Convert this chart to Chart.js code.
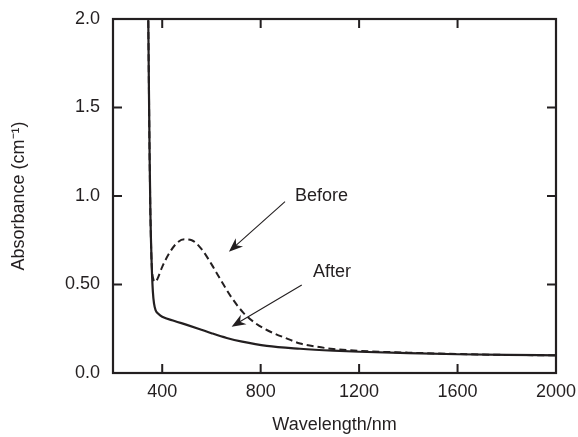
<!DOCTYPE html>
<html>
<head>
<meta charset="utf-8">
<script src="https://cdn.jsdelivr.net/npm/chart.js@4.4.1/dist/chart.umd.min.js"></script>
<style>
html,body{margin:0;padding:0;background:#fff;}
canvas{display:block;}
</style>
</head>
<body>
<canvas id="c" width="578" height="437"></canvas>
<script>
// ---- data ----
const xTicks = [400, 800, 1200, 1600, 2000];
const xTickLabels = ['400', '800', '1200', '1600', '2000'];
const yTicks = [0, 0.5, 1.0, 1.5, 2.0];
const yTickLabels = ['0.0', '0.50', '1.0', '1.5', '2.0'];

const afterWavelength = [343, 346, 349, 352, 357, 362, 367, 373, 384, 400, 450, 500, 550, 600, 662, 725, 825, 960, 1095, 1200, 1400, 1600, 1800, 2000];
const afterAbs =        [2.05, 1.6, 1.2, 0.9, 0.62, 0.46, 0.39, 0.355, 0.335, 0.318, 0.294, 0.272, 0.249, 0.225, 0.198, 0.177, 0.153, 0.137, 0.126, 0.12, 0.112, 0.106, 0.102, 0.1];

const beforeWavelength = [343, 346, 349, 352, 357, 364, 372, 380, 400, 430, 460, 490, 520, 560, 600, 640, 680, 730, 780, 825, 900, 960, 1030, 1095, 1200, 1400, 1600, 1800, 2000];
const beforeAbs =        [2.05, 1.6, 1.2, 0.9, 0.62, 0.53, 0.515, 0.53, 0.6, 0.68, 0.735, 0.755, 0.75, 0.70, 0.615, 0.52, 0.43, 0.34, 0.28, 0.243, 0.198, 0.167, 0.148, 0.136, 0.125, 0.115, 0.107, 0.102, 0.1];

// annotations
const noteLabels = ['Before', 'After'];
const noteLabelX = [1047, 1090];
const noteLabelY = [0.997, 0.573];
const arrowFromX = [899, 967];
const arrowFromY = [0.968, 0.497];
const arrowToX = [671, 682];
const arrowToY = [0.685, 0.262];

const ink = '#231f20';
const FONT = '"Liberation Sans", Arial, Helvetica, sans-serif';

const toPts = (xs, ys) => xs.map((v, i) => ({x: v, y: ys[i]}));

const framePlugin = {
  id: 'frame',
  afterDatasetsDraw(chart) {
    const {ctx, chartArea: a, scales: {x, y}} = chart;
    ctx.save();
    ctx.strokeStyle = ink;
    ctx.lineWidth = 2.2;
    ctx.strokeRect(a.left, a.top, a.right - a.left, a.bottom - a.top);
    ctx.lineWidth = 2;
    const tl = 9;
    xTicks.forEach(v => {
      if (v >= x.max) return;
      const px = x.getPixelForValue(v);
      ctx.beginPath();
      ctx.moveTo(px, a.bottom); ctx.lineTo(px, a.bottom - tl);
      ctx.moveTo(px, a.top); ctx.lineTo(px, a.top + tl);
      ctx.stroke();
    });
    yTicks.forEach(v => {
      if (v <= y.min || v >= y.max) return;
      const py = y.getPixelForValue(v);
      ctx.beginPath();
      ctx.moveTo(a.left, py); ctx.lineTo(a.left + tl, py);
      ctx.moveTo(a.right, py); ctx.lineTo(a.right - tl, py);
      ctx.stroke();
    });
    // arrows
    ctx.fillStyle = ink;
    ctx.lineWidth = 1.1;
    for (let i = 0; i < noteLabels.length; i++) {
      const x0 = x.getPixelForValue(arrowFromX[i]), y0 = y.getPixelForValue(arrowFromY[i]);
      const x1 = x.getPixelForValue(arrowToX[i]), y1 = y.getPixelForValue(arrowToY[i]);
      const ang = Math.atan2(y1 - y0, x1 - x0);
      const hl = 14, hw = 5.5;
      ctx.beginPath();
      ctx.moveTo(x0, y0);
      ctx.lineTo(x1 - Math.cos(ang) * 8, y1 - Math.sin(ang) * 8);
      ctx.stroke();
      const bx = x1 - Math.cos(ang) * hl, by = y1 - Math.sin(ang) * hl;
      const nx = -Math.sin(ang), ny = Math.cos(ang);
      const mx = x1 - Math.cos(ang) * hl * 0.7, my = y1 - Math.sin(ang) * hl * 0.7;
      ctx.beginPath();
      ctx.moveTo(x1, y1);
      ctx.lineTo(bx + nx * hw, by + ny * hw);
      ctx.lineTo(mx, my);
      ctx.lineTo(bx - nx * hw, by - ny * hw);
      ctx.closePath();
      ctx.fill();
      ctx.font = '18px ' + FONT;
      ctx.textAlign = 'center';
      ctx.textBaseline = 'middle';
      ctx.fillText(noteLabels[i], x.getPixelForValue(noteLabelX[i]), y.getPixelForValue(noteLabelY[i]));
    }
    ctx.restore();
  }
};

new Chart(document.getElementById('c'), {
  type: 'scatter',
  data: {
    datasets: [
      {
        label: 'Before',
        data: toPts(beforeWavelength, beforeAbs),
        showLine: true,
        borderColor: ink,
        borderWidth: 2,
        borderDash: [7, 4],
        pointRadius: 0,
        cubicInterpolationMode: 'monotone',
        fill: false
      },
      {
        label: 'After',
        data: toPts(afterWavelength, afterAbs),
        showLine: true,
        borderColor: ink,
        borderWidth: 2.2,
        pointRadius: 0,
        cubicInterpolationMode: 'monotone',
        fill: false
      }
    ]
  },
  options: {
    responsive: false,
    animation: false,
    devicePixelRatio: 1,
    layout: {padding: {left: 0, right: 22, top: 19, bottom: 0}},
    plugins: {legend: {display: false}, tooltip: {enabled: false}},
    scales: {
      x: {
        type: 'linear',
        min: 200, max: 2000,
        afterBuildTicks: s => { s.ticks = xTicks.map(v => ({value: v})); },
        afterFit: s => { s.height = 64; s.paddingLeft = 0; s.paddingRight = 0; },
        grid: {display: false, drawTicks: false},
        border: {display: false},
        ticks: {
          color: ink, padding: 8,
          font: {family: FONT, size: 18},
          maxRotation: 0, autoSkip: false,
          callback: (v) => { const i = xTicks.indexOf(v); return i >= 0 ? xTickLabels[i] : ''; }
        },
        title: {display: true, text: 'Wavelength/nm', color: ink, font: {family: FONT, size: 18}, padding: {top: 0, bottom: 1}}
      },
      y: {
        type: 'linear',
        min: 0, max: 2,
        afterBuildTicks: s => { s.ticks = yTicks.map(v => ({value: v})); },
        afterFit: s => { s.width = 113; s.paddingTop = 0; s.paddingBottom = 0; },
        grid: {display: false, drawTicks: false},
        border: {display: false},
        ticks: {
          color: ink, padding: 13,
          font: {family: FONT, size: 18},
          autoSkip: false,
          callback: (v) => { const i = yTicks.indexOf(v); return i >= 0 ? yTickLabels[i] : ''; }
        },
        title: {display: true, text: 'Absorbance (cm\u207B\u00B9)', color: ink, font: {family: FONT, size: 18}, padding: {top: 8, bottom: 0}}
      }
    }
  },
  plugins: [framePlugin]
});
</script>
</body>
</html>
